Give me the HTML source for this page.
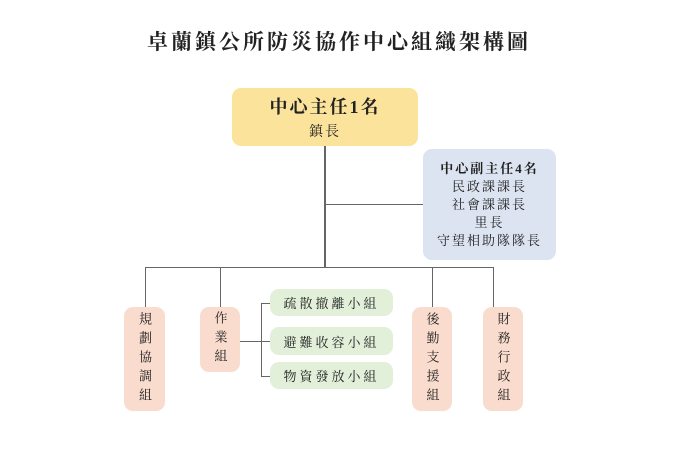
<!DOCTYPE html>
<html><head><meta charset="utf-8"><style>
body{margin:0;width:678px;height:470px;background:#fff;position:relative;overflow:hidden;font-family:"Liberation Serif","Noto Serif CJK SC",serif;color:#222}
.a{position:absolute}
.box{position:absolute;border-radius:9px;display:flex;flex-direction:column;align-items:center;justify-content:center;text-align:center}
.l{position:absolute;background:#666}
.v{writing-mode:vertical-rl;letter-spacing:6px;font-size:13px;line-height:1}
</style></head><body>
<div class="a" style="left:0;width:678px;top:26px;text-align:center;font-size:21px;font-weight:bold;letter-spacing:3px">卓蘭鎮公所防災協作中心組織架構圖</div>

<div class="l" style="left:324px;top:146px;width:2px;height:122px"></div>
<div class="l" style="left:325px;top:204px;width:99px;height:1px"></div>
<div class="l" style="left:145px;top:267px;width:349px;height:1px"></div>
<div class="l" style="left:145px;top:267px;width:1px;height:40px"></div>
<div class="l" style="left:220px;top:267px;width:1px;height:40px"></div>
<div class="l" style="left:432px;top:267px;width:1px;height:40px"></div>
<div class="l" style="left:493px;top:267px;width:1px;height:40px"></div>
<div class="l" style="left:240px;top:341px;width:21px;height:1px"></div>
<div class="l" style="left:261px;top:303px;width:1px;height:74px"></div>
<div class="l" style="left:261px;top:303px;width:10px;height:1px"></div>
<div class="l" style="left:261px;top:341px;width:10px;height:1px"></div>
<div class="l" style="left:261px;top:376px;width:10px;height:1px"></div>

<div class="box" style="left:232px;top:88px;width:186px;height:58px;background:#fbe39b">
<div style="font-size:18px;font-weight:bold;letter-spacing:2px">中心主任1名</div>
<div style="font-size:14px;letter-spacing:2px;margin-top:2px">鎮長</div></div>

<div class="box" style="left:423px;top:149px;width:133px;height:111px;background:#dce3f1;font-size:13px;line-height:18px;letter-spacing:2px">
<div style="font-weight:bold">中心副主任4名</div><div>民政課課長</div><div>社會課課長</div><div>里長</div><div>守望相助隊隊長</div></div>

<div class="box" style="left:124px;top:307px;width:41px;height:104px;background:#f9dccd"><div class="v">規劃協調組</div></div>
<div class="box" style="left:200px;top:307px;width:40px;height:65px;background:#f9dccd"><div class="v">作業組</div></div>
<div class="box" style="left:412px;top:307px;width:40px;height:104px;background:#f9dccd"><div class="v">後勤支援組</div></div>
<div class="box" style="left:483px;top:307px;width:40px;height:104px;background:#f9dccd"><div class="v">財務行政組</div></div>

<div class="box" style="left:270px;top:289px;width:123px;height:27px;background:#e2efd9;font-size:13px;letter-spacing:3px">疏散撤離小組</div>
<div class="box" style="left:270px;top:327px;width:123px;height:28px;background:#e2efd9;font-size:13px;letter-spacing:3px">避難收容小組</div>
<div class="box" style="left:270px;top:362px;width:123px;height:27px;background:#e2efd9;font-size:13px;letter-spacing:3px">物資發放小組</div>
</body></html>
